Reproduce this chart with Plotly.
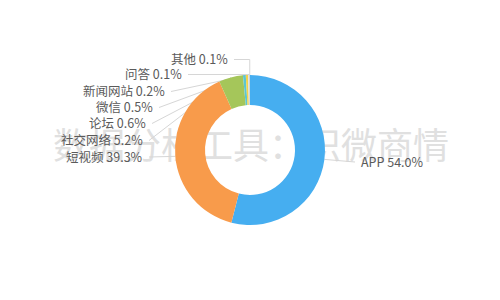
import math
import plotly.graph_objects as go

# ---- data ----
categories = ["APP", "短视频", "社交网络", "论坛", "微信", "新闻网站", "问答", "其他"]
shares = [54.0, 39.3, 5.2, 0.6, 0.5, 0.2, 0.1, 0.1]
watermark = "数据分析工具：识微商情"

# ---- styles / layout ----
colors = ["#46AEF0", "#F89B4B", "#A5C65A", "#5CC6D2", "#F5D24A", "#D9E3EE", "#9FB2C8", "#C9C9C9"]
W, H = 500, 300
cx, cy, R = 250, 150, 75
hole = 0.6
# label anchor points (pixel space) and anchor side
label_x = [359, 145, 145, 148, 155, 167, 184, 230]
label_y = [161, 156, 139.5, 122.5, 106.5, 90.5, 73.5, 58.5]
label_side = ["left", "right", "right", "right", "right", "right", "right", "right"]
gap = 4
line_color = "#D6D6D6"
text_color = "#5A5A5A"
font_family = "Noto Sans CJK SC, Microsoft YaHei, sans-serif"

fig = go.Figure()

# watermark (cartesian layer sits below the pie)
fig.add_trace(go.Scatter(
    x=[251], y=[150], mode="text", text=[watermark],
    textfont=dict(size=36, color="#E0E0E0", family=font_family),
    hoverinfo="skip", showlegend=False, cliponaxis=False,
))

# leader lines computed from slice mid-angles
total = sum(shares)
cum = 0.0
for i, v in enumerate(shares):
    mid = (cum + v / 2) / total * 2 * math.pi
    cum += v
    ex = cx + R * math.sin(mid)
    ey = cy - R * math.cos(mid)
    if label_side[i] == "right":
        sx = label_x[i] + gap
    else:
        sx = label_x[i] - gap
    sy = label_y[i] + 1
    if sy < cy - R:
        xs, ys = [sx, ex, ex], [sy, sy, ey]
    else:
        xs, ys = [sx, ex], [sy, ey]
    fig.add_trace(go.Scatter(
        x=xs, y=ys, mode="lines", line=dict(color=line_color, width=1),
        hoverinfo="skip", showlegend=False,
    ))

# donut
fig.add_trace(go.Pie(
    labels=categories, values=shares, sort=False, direction="clockwise",
    rotation=0, hole=hole, textinfo="none",
    marker=dict(colors=colors, line=dict(width=0)),
    domain=dict(x=[(cx - R) / W, (cx + R) / W], y=[(cy - R) / H, (cy + R) / H]),
    showlegend=False, hoverinfo="label+percent",
))

for i, name in enumerate(categories):
    fig.add_annotation(
        x=label_x[i], y=label_y[i], xref="x", yref="y",
        text=f"{name} {shares[i]:.1f}%", showarrow=False,
        xanchor=label_side[i], yanchor="middle",
        font=dict(size=12.5, color=text_color, family=font_family),
    )

fig.update_layout(
    width=W, height=H, margin=dict(l=0, r=0, t=0, b=0),
    paper_bgcolor="white", plot_bgcolor="white",
    xaxis=dict(range=[0, W], visible=False, fixedrange=True),
    yaxis=dict(range=[H, 0], visible=False, fixedrange=True),
    showlegend=False,
)

fig.write_html("out.html")
